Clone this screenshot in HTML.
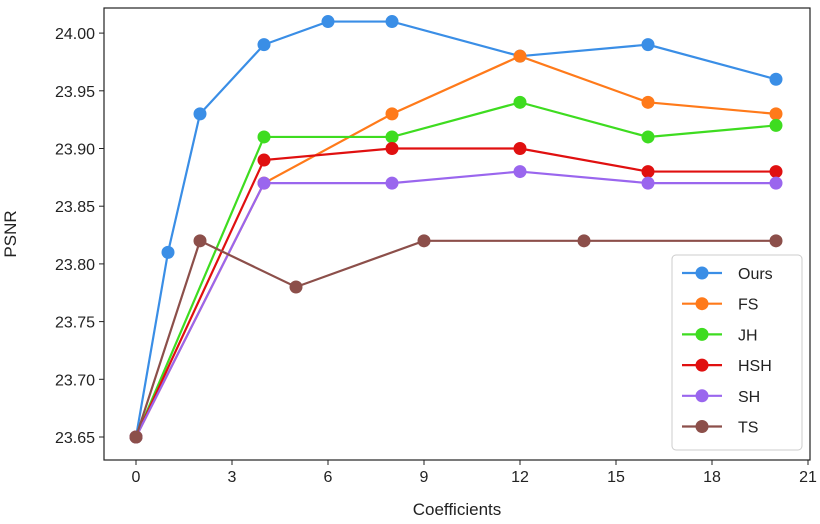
<!DOCTYPE html>
<html><head><meta charset="utf-8"><style>
body{margin:0;background:#fff}
svg text{font-family:"Liberation Sans","DejaVu Sans",sans-serif;fill:#222}
</style></head><body>
<svg id="chart" width="820" height="519" viewBox="0 0 820 519"></svg>
<script>
const seriesNames=["Ours","FS","JH","HSH","SH","TS"];
const seriesColors=["#3a8ee6","#ff7a1a","#3edc20","#e01010","#9a66ee","#8c4f4a"];
const xOurs=[0,1,2,4,6,8,12,16,20];
const yOurs=[23.65,23.81,23.93,23.99,24.01,24.01,23.98,23.99,23.96];
const xStd=[0,4,8,12,16,20];
const yFS=[23.65,23.87,23.93,23.98,23.94,23.93];
const yJH=[23.65,23.91,23.91,23.94,23.91,23.92];
const yHSH=[23.65,23.89,23.90,23.90,23.88,23.88];
const ySH=[23.65,23.87,23.87,23.88,23.87,23.87];
const xTS=[0,2,5,9,14,20];
const yTS=[23.65,23.82,23.78,23.82,23.82,23.82];
const xTicks=[0,3,6,9,12,15,18,21];
const yTicks=[23.65,23.70,23.75,23.80,23.85,23.90,23.95,24.00];

const L=104,R=810,T=8,B=460;
const xs=v=>136+v*32;
const ys=v=>437-(v-23.65)/0.05*57.7;
const NS="http://www.w3.org/2000/svg";
const svg=document.getElementById("chart");
function mk(tag,attrs,parent){const e=document.createElementNS(NS,tag);for(const k in attrs)e.setAttribute(k,attrs[k]);(parent||svg).appendChild(e);return e;}

const frame=mk("rect",{x:L,y:T,width:R-L,height:B-T,fill:"none",stroke:"#222","stroke-width":1.2});



xTicks.forEach(t=>{
  const g=mk("g",{});
  
  
  mk("line",{x1:xs(t),x2:xs(t),y1:B,y2:B+5,stroke:"#222"},g);
  const tx=mk("text",{x:xs(t),y:B+22,"text-anchor":"middle","font-size":16},g);tx.textContent=t;
});
yTicks.forEach(t=>{
  const g=mk("g",{});
  
  
  mk("line",{x1:L-5,x2:L,y1:ys(t),y2:ys(t),stroke:"#222"},g);
  const tx=mk("text",{x:L-9,y:ys(t)+6,"text-anchor":"end","font-size":16},g);tx.textContent=t.toFixed(2);
});
const xt=mk("text",{x:457,y:515,"text-anchor":"middle","font-size":17});xt.textContent="Coefficients";


const yt=mk("text",{x:16,y:234,"text-anchor":"middle","font-size":17,transform:"rotate(-90 16 234)"});yt.textContent="PSNR";



const data=[[xOurs,yOurs],[xStd,yFS],[xStd,yJH],[xStd,yHSH],[xStd,ySH],[xTS,yTS]];
const order=[0,1,2,3,4,5];
order.forEach(i=>{
  const [xa,ya]=data[i];
  const g=mk("g",{});
  
  
  mk("polyline",{points:xa.map((x,j)=>xs(x)+","+ys(ya[j])).join(" "),fill:"none",stroke:seriesColors[i],"stroke-width":2.2},g);
  xa.forEach((x,j)=>{
    const c=mk("circle",{cx:xs(x),cy:ys(ya[j]),r:6.5,fill:seriesColors[i]},g);
    
    
  });
});

const lg=mk("g",{});


mk("rect",{x:672,y:255,width:130,height:195,rx:4,fill:"#fff","fill-opacity":0.85,stroke:"#ccc"},lg);
seriesNames.forEach((n,i)=>{
  const y=273+i*30.7;
  const e=mk("g",{},lg);
  
  
  mk("line",{x1:682,x2:722,y1:y,y2:y,stroke:seriesColors[i],"stroke-width":2.2},e);
  mk("circle",{cx:702,cy:y,r:6.5,fill:seriesColors[i]},e);
  const t=mk("text",{x:738,y:y+6,"font-size":16},e);t.textContent=n;
});
</script>
</body></html>
